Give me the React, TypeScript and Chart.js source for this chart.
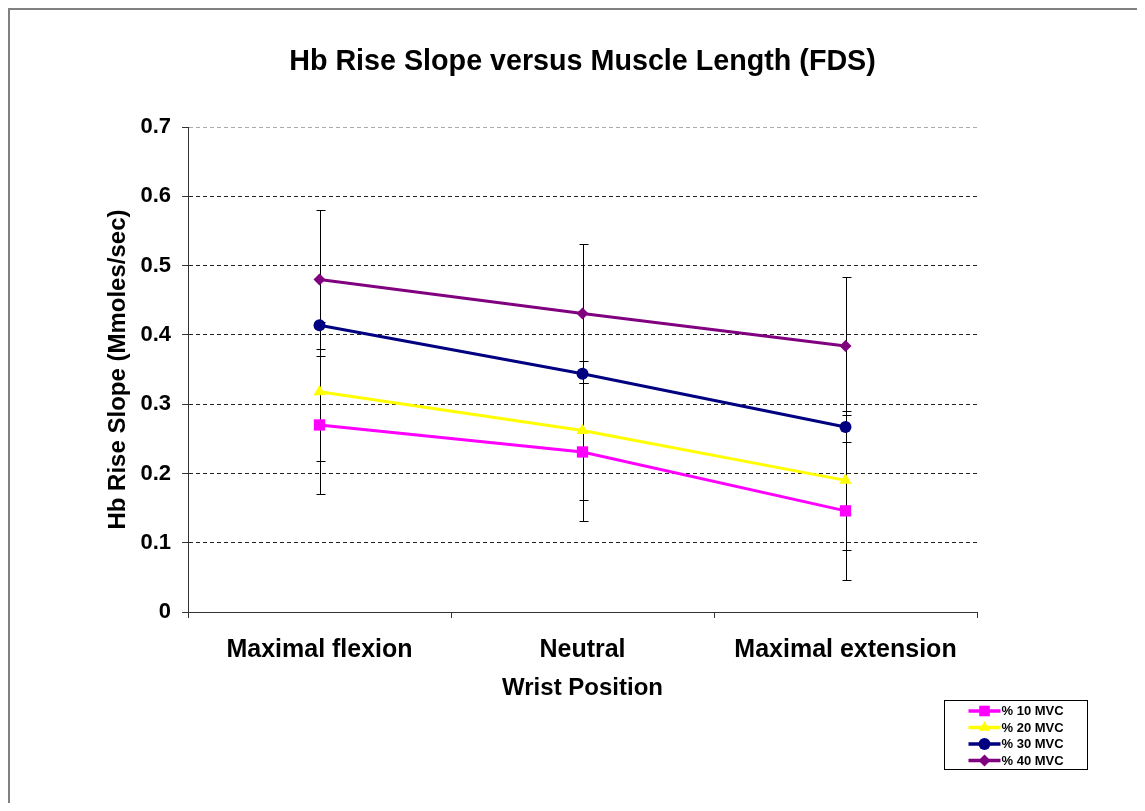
import React, { useEffect, useRef } from "react";
import { Chart, registerables } from "chart.js";
import { drawPoint } from "chart.js/helpers";

Chart.register(...registerables);

const categories = ["Maximal flexion", "Neutral", "Maximal extension"];
const seriesNames = ["% 10 MVC", "% 20 MVC", "% 30 MVC", "% 40 MVC"];
const mvc10 = [0.27, 0.231, 0.146];
const mvc20 = [0.318, 0.262, 0.19];
const mvc30 = [0.414, 0.344, 0.267];
const mvc40 = [0.48, 0.431, 0.384];
const err10 = [0.1, 0.1, 0.1];
const err20 = [0.1, 0.1, 0.1];
const err30 = [0, 0, 0];
const err40 = [0.1, 0.1, 0.1];
const yMin = 0;
const yMax = 0.7;
const yStep = 0.1;

const titleText = "Hb Rise Slope versus Muscle Length (FDS)";
const xTitle = "Wrist Position";
const yTitle = "Hb Rise Slope (Mmoles/sec)";

const FONT = "'Liberation Sans', Arial, Helvetica, sans-serif";
const colors = ["#FF00FF", "#FFFF00", "#000080", "#800080"];
const pointStyles = ["rect", "triangle", "circle", "rectRot"];
const pointRadii = [8, 7, 6, 6];
const legendRadii = [7.5, 6.5, 6, 6];

const errorBarPlugin = {
  id: "errorBars",
  beforeDatasetsDraw(chart: any) {
    const { ctx } = chart;
    const ys = chart.scales.y;
    chart.data.datasets.forEach((ds: any, i: number) => {
      const errs = ds.errors as number[] | undefined;
      if (!errs) return;
      const meta = chart.getDatasetMeta(i);
      meta.data.forEach((pt: any, j: number) => {
        const e = errs[j];
        if (!e) return;
        const v = ds.data[j] as number;
        const x = Math.round(pt.x) + 0.5;
        const yT = Math.round(ys.getPixelForValue(v + e)) + 0.5;
        const yB = Math.round(ys.getPixelForValue(v - e)) + 0.5;
        ctx.save();
        ctx.strokeStyle = "#000";
        ctx.lineWidth = 1;
        ctx.beginPath();
        ctx.moveTo(x, yT);
        ctx.lineTo(x, yB);
        ctx.moveTo(x - 4, yT);
        ctx.lineTo(x + 5, yT);
        ctx.moveTo(x - 4, yB);
        ctx.lineTo(x + 5, yB);
        ctx.stroke();
        ctx.restore();
      });
    });
  },
};

const legendPlugin = {
  id: "boxLegend",
  afterDraw(chart: any) {
    const { ctx } = chart;
    const left = 934.5;
    const top = 690.5;
    const w = 143;
    const h = 69;
    ctx.save();
    ctx.fillStyle = "#fff";
    ctx.fillRect(left, top, w, h);
    ctx.strokeStyle = "#000";
    ctx.lineWidth = 1;
    ctx.strokeRect(left, top, w, h);
    const rowH = 16.5;
    chart.data.datasets.forEach((ds: any, i: number) => {
      const cy = top + 10.5 + i * rowH;
      ctx.strokeStyle = ds.borderColor;
      ctx.lineWidth = 3.5;
      ctx.beginPath();
      ctx.moveTo(left + 24, cy);
      ctx.lineTo(left + 56, cy);
      ctx.stroke();
      ctx.fillStyle = ds.pointBackgroundColor;
      ctx.strokeStyle = ds.pointBorderColor;
      drawPoint(
        ctx,
        { pointStyle: ds.pointStyle, radius: legendRadii[i], rotation: 0, borderWidth: 0 } as any,
        left + 40,
        cy
      );
      ctx.fillStyle = "#000";
      ctx.font = `bold 13px ${FONT}`;
      ctx.textAlign = "left";
      ctx.textBaseline = "middle";
      ctx.fillText(ds.label, left + 57, cy + 0.5);
    });
    ctx.restore();
  },
};

export default function App() {
  const canvasRef = useRef<HTMLCanvasElement | null>(null);

  useEffect(() => {
    if (!canvasRef.current) return;
    const seriesValues = [mvc10, mvc20, mvc30, mvc40];
    const seriesErrors = [err10, err20, err30, err40];
    const chart = new Chart(canvasRef.current, {
      type: "line",
      data: {
        labels: categories,
        datasets: seriesValues.map((vals, i) => ({
          label: seriesNames[i],
          data: vals,
          errors: seriesErrors[i],
          borderColor: colors[i],
          backgroundColor: colors[i],
          borderWidth: 3,
          pointStyle: pointStyles[i],
          pointRadius: pointRadii[i],
          pointHoverRadius: pointRadii[i],
          pointBackgroundColor: colors[i],
          pointBorderColor: colors[i],
          pointBorderWidth: 0,
          tension: 0,
          fill: false,
        })) as any,
      },
      plugins: [errorBarPlugin, legendPlugin],
      options: {
        responsive: false,
        animation: false,
        events: [],
        layout: { padding: { left: 0, right: 160, top: 0, bottom: 91 } },
        plugins: {
          legend: { display: false },
          tooltip: { enabled: false },
          title: {
            display: true,
            text: titleText,
            fullSize: false,
            color: "#000",
            font: { family: FONT, size: 28.7, weight: "bold", lineHeight: 1.2 },
            padding: { top: 34.6, bottom: 48 },
          },
        },
        scales: {
          x: {
            type: "category",
            offset: true,
            afterFit: (s: any) => {
              s.height = 100;
            },
            grid: {
              display: true,
              drawOnChartArea: false,
              drawTicks: true,
              tickLength: 6,
              offset: true,
              color: "#333",
            },
            border: { display: true, color: "#333", width: 1 },
            ticks: {
              color: "#000",
              padding: 17,
              maxRotation: 0,
              autoSkip: false,
              font: { family: FONT, size: 25, weight: "bold", lineHeight: 1.2 },
            },
            title: {
              display: true,
              text: xTitle,
              color: "#000",
              font: { family: FONT, size: 24, weight: "bold", lineHeight: 1.2 },
              padding: { top: 0, bottom: 9 },
            },
          },
          y: {
            type: "linear",
            min: yMin,
            max: yMax,
            afterFit: (s: any) => {
              s.width = 178;
            },
            grid: {
              display: true,
              drawTicks: true,
              tickLength: 6,
              color: (c: any) =>
                c.tick && Math.abs(c.tick.value - yMax) < 1e-9 ? "#aaa" : "#222",
              tickColor: "#333",
              tickBorderDash: [],
              lineWidth: 1,
            },
            border: { display: true, color: "#333", width: 1, dash: [4, 3] },
            ticks: {
              stepSize: yStep,
              color: "#000",
              padding: 11,
              font: { family: FONT, size: 22, weight: "bold", lineHeight: 1.2 },
              callback: (v: any) => String(Math.round(Number(v) * 10) / 10),
            },
            title: {
              display: true,
              text: yTitle,
              color: "#000",
              font: { family: FONT, size: 24, weight: "bold", lineHeight: 1.2 },
              padding: { top: 94, bottom: 0 },
            },
          },
        },
      } as any,
    });
    return () => chart.destroy();
  }, []);

  return (
    <div
      style={{
        width: 1129,
        height: 795,
        borderTop: "2px solid #808080",
        borderLeft: "2px solid #808080",
        boxSizing: "border-box",
        position: "relative",
        background: "#fff",
      }}
    >
      <canvas
        ref={canvasRef}
        width={1127}
        height={793}
        style={{ position: "absolute", left: 0, top: 0, width: 1127, height: 793, display: "block" }}
      />
    </div>
  );
}
